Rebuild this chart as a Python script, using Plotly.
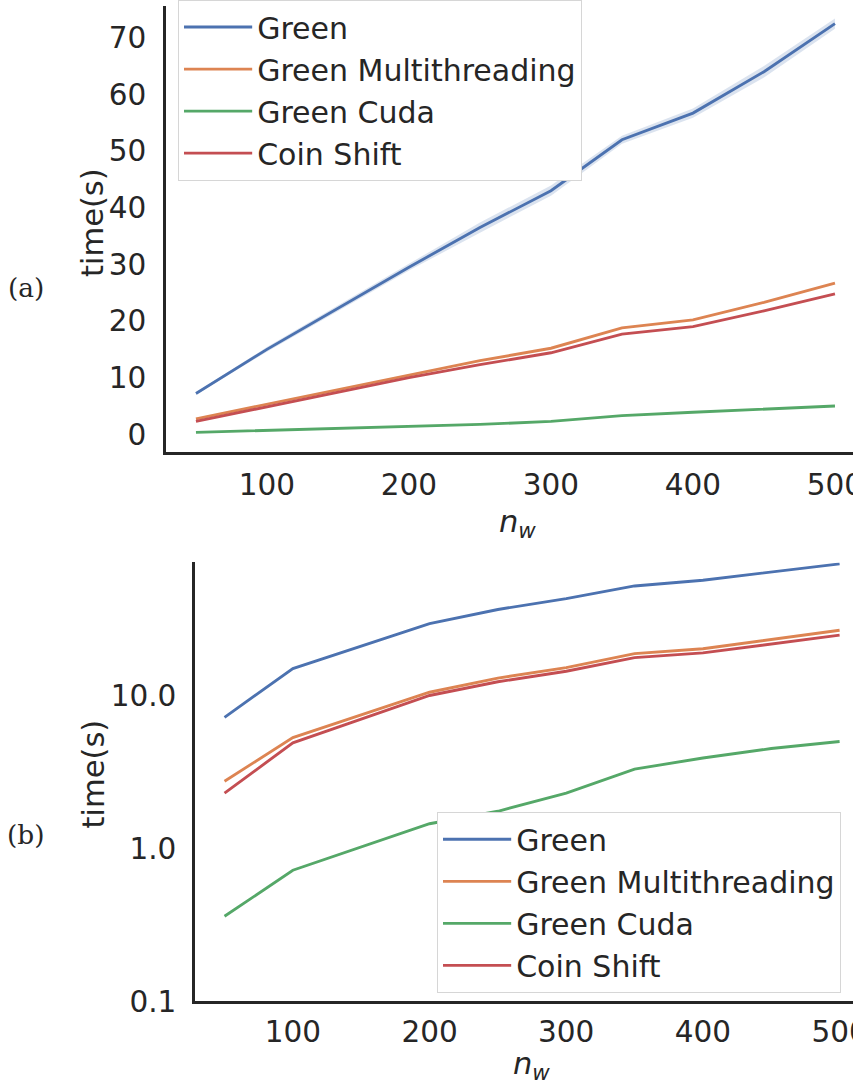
import plotly.graph_objects as go

# ---- data ----
n_w = [50, 100, 200, 250, 300, 350, 400, 450, 500]
green = [7.2, 15.0, 29.5, 36.5, 43.0, 52.0, 56.7, 64.0, 72.5]
green_lo = [7.0, 14.6, 28.9, 35.6, 42.1, 51.3, 55.9, 63.0, 71.6]
green_hi = [7.4, 15.4, 30.1, 37.4, 43.9, 52.7, 57.5, 65.0, 73.4]
green_mt = [2.75, 5.3, 10.5, 13.0, 15.2, 18.8, 20.2, 23.3, 26.7]
green_cuda = [0.36, 0.72, 1.45, 1.75, 2.3, 3.3, 3.9, 4.5, 5.0]
coin_shift = [2.3, 4.9, 10.0, 12.3, 14.4, 17.7, 19.0, 21.8, 24.8]

names = ["Green", "Green Multithreading", "Green Cuda", "Coin Shift"]
series = [green, green_mt, green_cuda, coin_shift]
colors = ["#4c72b0", "#dd8452", "#55a868", "#c44e52"]

y_ticks_a = [0, 10, 20, 30, 40, 50, 60, 70]
y_ticks_b = [0.1, 1.0, 10.0]
y_ticks_b_text = ["0.1", "1.0", "10.0"]
x_ticks = [100, 200, 300, 400, 500]

# layout coordinates are given in the 853x1084 reference pixel space
W, H = 853, 1084
FW, FH = 868, 1102          # figure size (page is shown scaled to the window)
S = FW / W                  # px scale for fonts / widths
TXT = "#262626"
FONT = "DejaVu Sans"

fig = go.Figure()

# confidence band (top)
fig.add_trace(go.Scatter(x=n_w + n_w[::-1], y=green_hi + green_lo[::-1], fill="toself",
                         mode="lines", fillcolor="rgba(76,114,176,0.2)", line=dict(width=0),
                         hoverinfo="skip", showlegend=False, xaxis="x", yaxis="y"))

for name, ys, c in zip(names, series, colors):
    fig.add_trace(go.Scatter(x=n_w, y=ys, mode="lines", name=name,
                             line=dict(color=c, width=2.8 * S), xaxis="x", yaxis="y",
                             legend="legend"))
for name, ys, c in zip(names, series, colors):
    fig.add_trace(go.Scatter(x=n_w, y=ys, mode="lines", name=name,
                             line=dict(color=c, width=2.8 * S), xaxis="x2", yaxis="y2",
                             legend="legend2"))

axis_common = dict(showgrid=False, zeroline=False, showline=True, linecolor=TXT,
                   linewidth=2.5 * S, ticks="", ticklabeloverflow="allow",
                   tickfont=dict(family=FONT, size=29 * S, color=TXT))

legend_common = dict(xanchor="left", yanchor="top", bgcolor="white",
                     bordercolor="#d6d6d6", borderwidth=1,
                     font=dict(family=FONT, size=29.5 * S, color=TXT),
                     tracegroupgap=0, itemwidth=67 * S)

fig.update_layout(
    width=FW, height=FH,
    margin=dict(l=0, r=0, t=0, b=0),
    paper_bgcolor="white", plot_bgcolor="white",
    xaxis=dict(domain=[166 / W, 1], range=[28.9, 512.7], anchor="y",
               tickvals=x_ticks, ticklabelstandoff=int(5 * S), **axis_common),
    yaxis=dict(domain=[1 - 448 / H, 1], range=[-3.1, 75.6], anchor="x",
               tickvals=y_ticks_a, ticklabelstandoff=int(11 * S), **axis_common),
    xaxis2=dict(domain=[195 / W, 1], range=[28.4, 509.8], anchor="y2",
                tickvals=x_ticks, ticklabelstandoff=int(2 * S), **axis_common),
    yaxis2=dict(domain=[1 - 1000 / H, 1 - 559 / H], type="log", range=[-1, 1.87],
                anchor="x2", tickvals=y_ticks_b, ticktext=y_ticks_b_text,
                ticklabelstandoff=int(10 * S), **axis_common),
    legend=dict(x=178 / W, y=1 + 6 / H, **legend_common),
    legend2=dict(x=437 / W, y=1 - 810 / H, **legend_common),
    showlegend=True,
)

annots = [
    dict(text="time(s)", x=93 / W, y=1 - 218 / H, textangle=-90, size=30, fam=FONT),
    dict(text="time(s)", x=93 / W, y=1 - 772 / H, textangle=-90, size=30, fam=FONT),
    dict(text="<i>n</i><sub><i>w</i></sub>", x=517 / W, y=1 - 520 / H, textangle=0, size=30, fam=FONT),
    dict(text="<i>n</i><sub><i>w</i></sub>", x=531 / W, y=1 - 1064 / H, textangle=0, size=30, fam=FONT),
    dict(text="(a)", x=26 / W, y=1 - 283 / H, textangle=0, size=26, fam="DejaVu Serif"),
    dict(text="(b)", x=26 / W, y=1 - 832 / H, textangle=0, size=26, fam="DejaVu Serif"),
]
for a in annots:
    fig.add_annotation(text=a["text"], x=a["x"], y=a["y"], xref="paper", yref="paper",
                       showarrow=False, textangle=a["textangle"], xanchor="center",
                       yanchor="middle",
                       font=dict(family=a["fam"], size=a["size"] * S, color=TXT))

fig.write_html("out.html", config={"displayModeBar": False},
               post_script="document.body.style.margin='0';document.body.style.overflow='hidden';")
